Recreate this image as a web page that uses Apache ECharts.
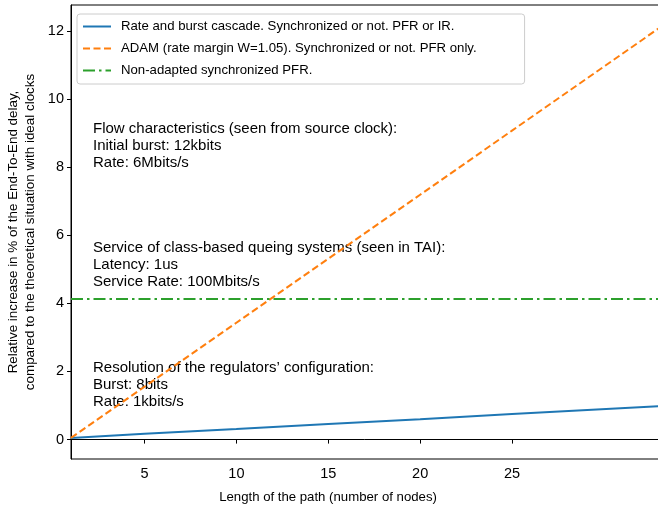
<!DOCTYPE html>
<html>
<head>
<meta charset="utf-8">
<script src="https://cdn.jsdelivr.net/npm/echarts@6/dist/echarts.min.js"></script>
<style>html,body{margin:0;padding:0;background:#fff;}#c{width:658px;height:510px;}</style>
</head>
<body>
<div id="c"></div>
<script>
// Values
const pathLengths = [1, 5, 10, 15, 20, 25, 33];
const rateBurstCascade = [0.05, 0.17, 0.31, 0.46, 0.60, 0.75, 0.98];
const adam = [0.05, 1.55, 3.43, 5.31, 7.19, 9.07, 12.08];
const nonAdaptedX = [1, 33];
const nonAdapted = [4.13, 4.13];
const xTicks = [5, 10, 15, 20, 25];
const yTicks = [0, 2, 4, 6, 8, 10, 12];
const seriesNames = [
  'Rate and burst cascade. Synchronized or not. PFR or IR.',
  'ADAM (rate margin W=1.05). Synchronized or not. PFR only.',
  'Non-adapted synchronized PFR.'
];
const annotations = [
  'Flow characteristics (seen from source clock):\nInitial burst: 12kbits\nRate: 6Mbits/s',
  'Service of class-based queing systems (seen in TAI):\nLatency: 1us\nService Rate: 100Mbits/s',
  'Resolution of the regulators\u2019 configuration:\nBurst: 8bits\nRate: 1kbits/s'
];
const xTitle = 'Length of the path (number of nodes)';
const yTitle = 'Relative increase in % of the End-To-End delay,\ncompared to the theoretical situation with ideal clocks';

const FONT = 'Liberation Sans';
const zip = (xs, ys) => xs.map((x, i) => [x, ys[i]]);

const chart = echarts.init(document.getElementById('c'), null, {renderer: 'canvas'});
chart.setOption({
  animation: false,
  textStyle: {fontFamily: FONT},
  grid: {left: 71, right: -1, top: 5, bottom: 51, containLabel: false, outerBoundsMode: 'none',
         show: true, borderColor: '#000', borderWidth: 1, backgroundColor: 'transparent'},
  xAxis: {
    type: 'value', min: 1, max: 33,
    axisLine: {show: true, lineStyle: {color: '#000', width: 1}},
    axisTick: {show: true, inside: false, length: 4, lineStyle: {color: '#000'}, customValues: xTicks},
    axisLabel: {show: true, color: '#000', fontSize: 14.5, fontFamily: FONT, margin: 7, customValues: xTicks},
    splitLine: {show: false}
  },
  yAxis: {
    type: 'value', min: -0.57, max: 12.76,
    axisLine: {show: true, lineStyle: {color: '#000', width: 1}},
    axisTick: {show: true, inside: false, length: 4, lineStyle: {color: '#000'}, customValues: yTicks},
    axisLabel: {show: true, color: '#000', fontSize: 14.5, fontFamily: FONT, margin: 7, customValues: yTicks},
    splitLine: {show: false}
  },
  legend: {
    orient: 'vertical', left: 77, top: 14,
    padding: [6, 48, 7, 5],
    itemWidth: 28, itemHeight: 14, itemGap: 9,
    backgroundColor: 'rgba(255,255,255,0.8)', borderColor: '#cccccc', borderWidth: 1, borderRadius: 3,
    itemStyle: {opacity: 0},
    textStyle: {color: '#000', fontSize: 13.2, fontFamily: FONT, padding: [0, 0, 0, 5]},
    data: seriesNames
  },
  graphic: [
    {type: 'text', left: 93, top: 120, style: {text: annotations[0], font: '15px ' + FONT, fill: '#000', lineHeight: 17}},
    {type: 'text', left: 93, top: 239, style: {text: annotations[1], font: '15px ' + FONT, fill: '#000', lineHeight: 17}},
    {type: 'text', left: 93, top: 359, style: {text: annotations[2], font: '15px ' + FONT, fill: '#000', lineHeight: 17}},
    {type: 'text', x: 328, y: 497, style: {text: xTitle, font: '13.2px ' + FONT, fill: '#000', align: 'center', verticalAlign: 'middle'}},
    {type: 'text', x: 22, y: 232, rotation: Math.PI / 2,
     style: {text: yTitle, font: '13.4px ' + FONT, fill: '#000', align: 'center', verticalAlign: 'middle', lineHeight: 17}}
  ],
  series: [
    {name: seriesNames[0], type: 'line', data: zip(pathLengths, rateBurstCascade), showSymbol: false, symbol: 'none',
     lineStyle: {color: '#1f77b4', width: 2}, itemStyle: {color: '#1f77b4'}, z: 3},
    {name: seriesNames[1], type: 'line', data: zip(pathLengths, adam), showSymbol: false, symbol: 'none',
     lineStyle: {color: '#ff7f0e', width: 2, type: [7, 3.5]}, itemStyle: {color: '#ff7f0e'}, z: 3},
    {name: seriesNames[2], type: 'line', data: zip(nonAdaptedX, nonAdapted), showSymbol: false, symbol: 'none',
     lineStyle: {color: '#2ca02c', width: 2, type: [12, 4, 2.5, 4]}, itemStyle: {color: '#2ca02c'}, z: 3}
  ]
});
</script>
</body>
</html>
